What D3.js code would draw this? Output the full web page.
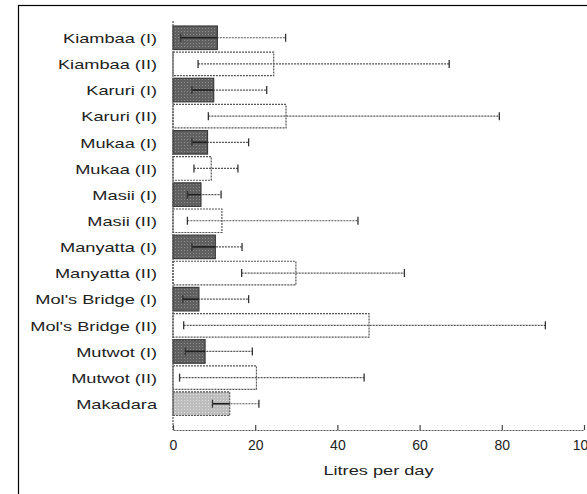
<!DOCTYPE html>
<html>
<head>
<meta charset="utf-8">
<script src="https://cdn.jsdelivr.net/npm/d3@7"></script>
<style>
  html, body { margin: 0; padding: 0; background: #fff; }
  svg { display: block; }
  text { font-family: "Liberation Sans", Arial, sans-serif; fill: #222; }
</style>
</head>
<body>
<svg id="chart" width="587" height="494"></svg>
<script>
// Water use per person by site (mean with lower/upper bound)
const sites = [
  "Kiambaa (I)", "Kiambaa (II)", "Karuri (I)", "Karuri (II)",
  "Mukaa (I)", "Mukaa (II)", "Masii (I)", "Masii (II)",
  "Manyatta (I)", "Manyatta (II)", "Mol's Bridge (I)", "Mol's Bridge (II)",
  "Mutwot (I)", "Mutwot (II)", "Makadara"
];
const groups = ["I", "II", "I", "II", "I", "II", "I", "II", "I", "II", "I", "II", "I", "II", "M"];
const means = [10.8, 24.5, 9.9, 27.5, 8.4, 9.3, 6.8, 11.9, 10.3, 29.9, 6.3, 47.7, 7.8, 20.3, 13.8];
const lows  = [1.9, 6.1, 4.6, 8.6, 4.6, 5.1, 3.5, 3.5, 4.6, 16.7, 2.4, 2.6, 3.0, 1.6, 9.6];
const highs = [27.4, 67.2, 22.8, 79.4, 18.4, 15.8, 11.7, 45.0, 16.8, 56.3, 18.4, 90.6, 19.3, 46.5, 20.9];
const xTicks = [0, 20, 40, 60, 80, 100];
const xTitle = "Litres per day";

const rows = sites.map((s, i) => ({ site: s, group: groups[i], mean: means[i], lo: lows[i], hi: highs[i] }));

const svg = d3.select("#chart");
const STRETCH = 1.4;

// outer frame
svg.append("rect")
  .attr("x", 18.5).attr("y", 5.5)
  .attr("width", 700).attr("height", 700)
  .attr("fill", "none").attr("stroke", "#000").attr("stroke-width", 1.2);

// halftone-like fills
const defs = svg.append("defs");
function dotPattern(id, base, dot) {
  const p = defs.append("pattern").attr("id", id)
    .attr("patternUnits", "userSpaceOnUse").attr("width", 3).attr("height", 3);
  p.append("rect").attr("width", 3).attr("height", 3).attr("fill", base);
  p.append("rect").attr("x", 1).attr("y", 1).attr("width", 1).attr("height", 1).attr("fill", dot);
}
dotPattern("darkFill", "#606060", "#8c8c8c");
dotPattern("lightFill", "#bdbdbd", "#dedede");
const fillFor = g => g === "I" ? "url(#darkFill)" : g === "M" ? "url(#lightFill)" : "#fff";

const x = d3.scaleLinear().domain([0, 100]).range([173, 584]);
const y = d3.scaleBand().domain(sites).range([24.7, 416.8]).paddingInner(0.1).paddingOuter(0.05);

const axisColor = "#555";
const dash = "2,1";

// bars
svg.append("g").selectAll("rect").data(rows).join("rect")
  .attr("x", x(0))
  .attr("y", d => y(d.site))
  .attr("width", d => x(d.mean) - x(0))
  .attr("height", y.bandwidth())
  .attr("fill", d => fillFor(d.group))
  .attr("stroke", d => d.group === "I" ? "#3a3a3a" : axisColor)
  .attr("stroke-width", 1.2)
  .attr("stroke-dasharray", d => d.group === "I" ? null : dash);

// error bars
const eb = svg.append("g").selectAll("g").data(rows).join("g")
  .attr("transform", d => `translate(0,${y(d.site) + y.bandwidth() / 2})`);
eb.append("line")
  .attr("x1", d => x(d.lo)).attr("x2", d => x(d.hi))
  .attr("stroke", axisColor).attr("stroke-width", 1.2).attr("stroke-dasharray", dash);
eb.filter(d => d.group !== "II").append("line")
  .attr("x1", d => x(d.lo)).attr("x2", d => x(Math.min(d.mean, d.hi)))
  .attr("stroke", "#1e1e1e").attr("stroke-width", 1.6);
eb.selectAll("line.cap").data(d => [d.lo, d.hi]).join("line")
  .attr("class", "cap")
  .attr("x1", v => x(v)).attr("x2", v => x(v))
  .attr("y1", -4).attr("y2", 4)
  .attr("stroke", "#333").attr("stroke-width", 1.3);

// left axis line
svg.append("line")
  .attr("x1", x(0)).attr("x2", x(0)).attr("y1", 21).attr("y2", 430)
  .attr("stroke", axisColor).attr("stroke-width", 1.2).attr("stroke-dasharray", dash);

// category labels
const yAxis = svg.append("g").attr("transform", `translate(${x(0)},0)`)
  .call(d3.axisLeft(y).tickSize(0).tickPadding(16 / STRETCH));
yAxis.select(".domain").remove();
yAxis.selectAll("text")
  .attr("font-size", 13)
  .attr("dy", "0.4em")
  .attr("font-family", "Liberation Sans, Arial, sans-serif")
  .attr("fill", "#222")
  .attr("transform", `scale(${STRETCH},1)`);

// bottom axis
const xAxis = svg.append("g").attr("transform", "translate(0,430)")
  .call(d3.axisBottom(x).tickValues(xTicks).tickSizeInner(-5).tickSizeOuter(0).tickPadding(10.5));
xAxis.select(".domain")
  .attr("stroke", axisColor).attr("stroke-width", 1.2).attr("stroke-dasharray", dash);
xAxis.selectAll(".tick line").attr("stroke", "#444").attr("stroke-width", 1.2);
xAxis.selectAll("text")
  .attr("font-size", 14)
  .attr("font-family", "Liberation Sans, Arial, sans-serif")
  .attr("fill", "#222");

// axis title
svg.append("text")
  .attr("transform", `translate(${(x(0) + x(100)) / 2},474.5) scale(${STRETCH},1)`)
  .attr("text-anchor", "middle")
  .attr("font-size", 13)
  .text(xTitle);
</script>
</body>
</html>
